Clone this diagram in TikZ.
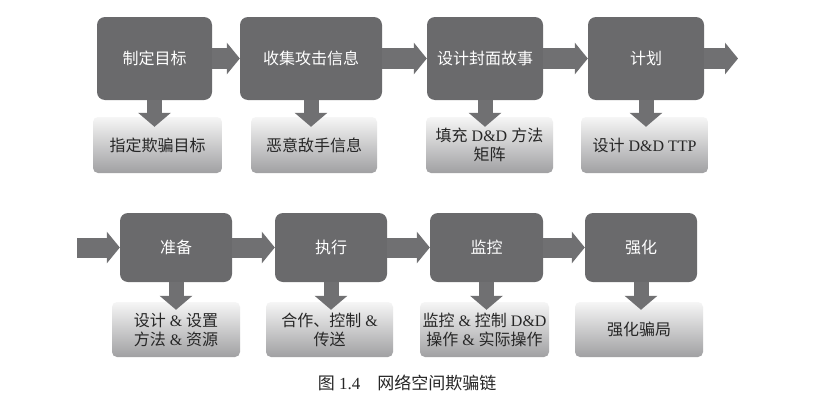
\documentclass[tikz,border=0pt]{standalone}
\usepackage{fontspec}
\setmainfont{Liberation Serif}
\newfontfamily\cjk{Noto Sans CJK SC}
\usetikzlibrary{arrows.meta}
\newcommand{\zh}[1]{{\cjk #1}}
\definecolor{mainc}{RGB}{106,106,108}
\definecolor{arrc}{RGB}{112,112,114}
\definecolor{subtop}{RGB}{246,246,246}
\definecolor{subbot}{RGB}{160,160,162}
\tikzset{
  mainbox/.style={draw=none, fill=mainc, rounded corners=8pt, text=white,
    font=\cjk\fontsize{16}{19}\selectfont, inner sep=0pt},
  subbox/.style={draw=none, top color=subtop, bottom color=subbot,
    rounded corners=5pt, text=black!85, align=center,
    font=\fontsize{16}{19}\selectfont, inner sep=0pt},
  harrow/.style={draw=arrc, line width=21pt,
    -{Triangle[width=31pt,length=13pt]}},
  varrow/.style={draw=arrc, line width=15pt,
    -{Triangle[width=32pt,length=14pt]}},
}
\begin{document}
\begin{tikzpicture}[x=1pt,y=-1pt]
\useasboundingbox (0,0) rectangle (817,407);
\fill[white] (0,0) rectangle (817,407);
% top row main boxes
\node[mainbox, minimum width=115, minimum height=83] (m1) at (154.5,58.5) {制定目标};
\node[mainbox, minimum width=142, minimum height=83] (m2) at (311,58.5) {收集攻击信息};
\node[mainbox, minimum width=116, minimum height=83] (m3) at (485,58.5) {设计封面故事};
\node[mainbox, minimum width=116, minimum height=83] (m4) at (646,58.5) {计划};
% top row sub boxes
\node[subbox, minimum width=129, minimum height=56] (s1) at (157.5,145) {\zh{指定欺骗目标}};
\node[subbox, minimum width=126, minimum height=56] (s2) at (314,145) {\zh{恶意敌手信息}};
\node[subbox, minimum width=127, minimum height=56] (s3) at (489.5,145) {\zh{填充} D\&D \zh{方法}\\\zh{矩阵}};
\node[subbox, minimum width=127, minimum height=56] (s4) at (644.5,145) {\zh{设计} D\&D TTP};
% bottom row main boxes
\node[mainbox, minimum width=112, minimum height=69] (m5) at (176,247.5) {准备};
\node[mainbox, minimum width=112, minimum height=69] (m6) at (331,247.5) {执行};
\node[mainbox, minimum width=113, minimum height=69] (m7) at (486.5,247.5) {监控};
\node[mainbox, minimum width=112, minimum height=69] (m8) at (641,247.5) {强化};
% bottom row sub boxes
\node[subbox, minimum width=128, minimum height=55] (s5) at (176,329.5) {\zh{设计} \& \zh{设置}\\\zh{方法} \& \zh{资源}};
\node[subbox, minimum width=127, minimum height=55] (s6) at (329.5,329.5) {\zh{合作、控制} \&\\\zh{传送}};
\node[subbox, minimum width=129, minimum height=55] (s7) at (484.5,329.5) {\zh{监控} \& \zh{控制} D\&D\\\zh{操作} \& \zh{实际操作}};
\node[subbox, minimum width=128, minimum height=55] (s8) at (639,329.5) {\zh{强化骗局}};
% free ends
\coordinate (outA) at (738,58.5);
\coordinate (inB) at (77,247.5);
% horizontal arrows
\draw[harrow] (m1.east) -- (m2.west);
\draw[harrow] (m2.east) -- (m3.west);
\draw[harrow] (m3.east) -- (m4.west);
\draw[harrow] (m4.east) -- (outA);
\draw[harrow, line width=20pt] (inB) -- (m5.west);
\draw[harrow, line width=20pt] (m5.east) -- (m6.west);
\draw[harrow, line width=20pt] (m6.east) -- (m7.west);
\draw[harrow, line width=20pt] (m7.east) -- (m8.west);
% vertical arrows
\foreach \m/\s in {m1/s1,m2/s2,m3/s3,m4/s4}
  \draw[varrow] (\m.south) -- ([yshift=-10pt]\m.south |- \s.north);
\foreach \m/\s in {m5/s5,m6/s6,m7/s7,m8/s8}
  \draw[varrow] (\m.south) -- ([yshift=-8pt]\m.south |- \s.north);
% caption
\node[font=\fontsize{17}{20}\selectfont, text=black!85, inner sep=0pt] (cap) at (407,383)
  {\zh{图} 1.4\hspace{1em}\zh{网络空间欺骗链}};
\end{tikzpicture}
\end{document}
